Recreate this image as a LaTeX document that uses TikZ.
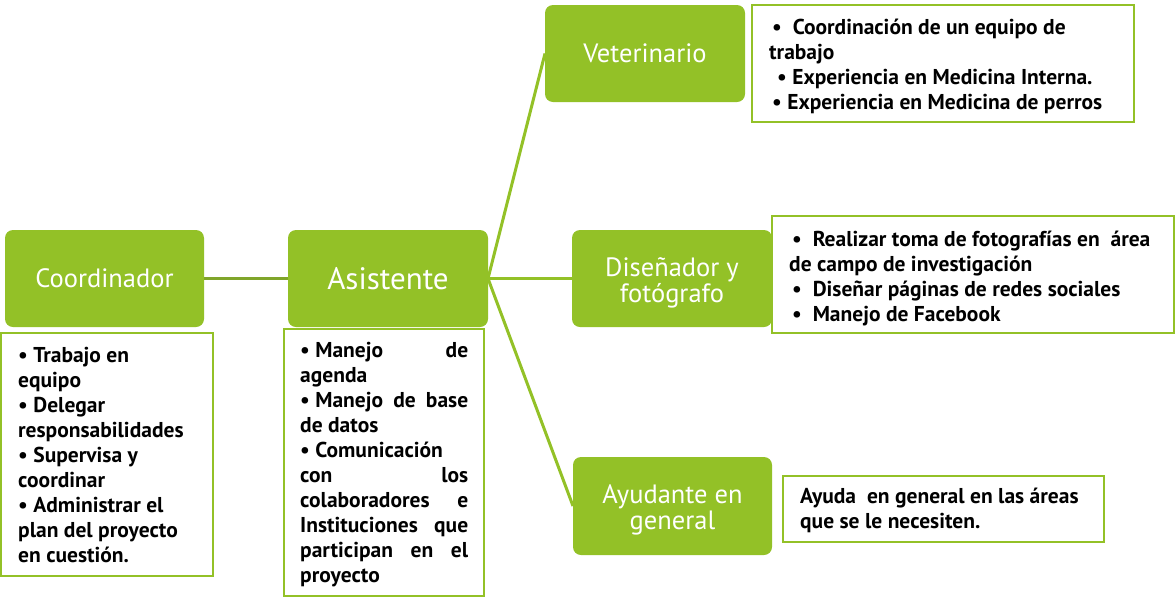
\documentclass[tikz,border=0pt]{standalone}
\usepackage{fontspec}
\setmainfont{PT Sans}
\definecolor{grn}{RGB}{147,193,39}
\definecolor{grnline}{RGB}{128,165,42}
\tikzset{
  role/.style={fill=grn, rounded corners=8pt, text=white, align=center, inner sep=0pt, outer sep=0pt,
    font=\fontsize{26.5}{26}\selectfont},
  listbox/.style={draw=grn, line width=2pt, fill=white, inner sep=0pt, outer sep=0pt},
  listtxt/.style={anchor=base west, align=left, inner sep=0pt, font=\bfseries\fontsize{21.5}{25}\selectfont},
  conn/.style={draw=grn, line width=3pt},
}
\begin{document}
\begin{tikzpicture}[x=1pt,y=-1pt]
\useasboundingbox (0,0) rectangle (1176,598);
% list boxes
\node[listbox, minimum width=212pt, minimum height=243pt] (coordlist) at (107,454.5) {};
\node[listbox, minimum width=200pt, minimum height=267pt] (asistlist) at (384,462.5) {};
\node[listbox, minimum width=382pt, minimum height=117pt] (vetlist) at (943,63.5) {};
\node[listbox, minimum width=402pt, minimum height=117pt] (dislist) at (973,274.5) {};
\node[listbox, minimum width=321pt, minimum height=66pt] (ayulist) at (943.5,509) {};
% role boxes
\node[role, minimum width=199pt, minimum height=97pt] (coord) at (104.5,278.5) {Coordinador};
\node[role, minimum width=200pt, minimum height=97pt, font=\fontsize{31}{30}\selectfont] (asist) at (388,278.5) {Asistente};
\node[role, minimum width=200pt, minimum height=97pt] (vet) at (645,53.5) {Veterinario};
\node[role, minimum width=200pt, minimum height=97pt] (dis) at (672,278.5) {\rule{0pt}{27pt}Diseñador y\\fotógrafo};
\node[role, minimum width=199pt, minimum height=98pt] (ayu) at (672.5,506) {\rule{0pt}{27pt}Ayudante en\\general};
% connectors
\draw[conn, draw=grnline] (coord.east) -- (asist.west);
\draw[conn] (asist.east) -- (vet.west);
\draw[conn] (asist.east) -- (dis.west);
\draw[conn] (asist.east) -- (ayu.west);
% texts (anchored at the baseline of their last line)
\node[listtxt] (coordtxt) at (18,562) {\textbullet\ Trabajo en\\equipo\\\textbullet\ Delegar\\responsabilidades\\\textbullet\ Supervisa y\\coordinar\\\textbullet\ Administrar el\\plan del proyecto\\en cuestión.};
\node[listtxt] (asisttxt) at (300,582) {%
\hbox to 168pt{\textbullet\ Manejo\hfill de}\\
agenda\\
\hbox to 168pt{\textbullet\ Manejo\hfill de\hfill base}\\
de datos\\
\textbullet\ Comunicación\\
\hbox to 168pt{con\hfill los}\\
\hbox to 168pt{colaboradores\hfill e}\\
\hbox to 168pt{Instituciones\hfill que}\\
\hbox to 168pt{participan\hfill en\hfill el}\\
proyecto};
\node[listtxt] (vettxt) at (769,109) {\hspace*{3pt}\textbullet\ \ Coordinación de un equipo de\\trabajo\\\hspace*{8pt}\textbullet\ Experiencia en Medicina Interna.\\\hspace*{3pt}\textbullet\ Experiencia en Medicina de perros};
\node[listtxt] (distxt) at (789,321) {\hspace*{3pt}\textbullet\ \ Realizar toma de fotografías en\ \ área\\de campo de investigación\\\hspace*{3pt}\textbullet\ \ Diseñar páginas de redes sociales\\\hspace*{3pt}\textbullet\ \ Manejo de Facebook};
\node[listtxt] (ayutxt) at (800,528) {Ayuda\ \ en general en las áreas\\que se le necesiten.};
\end{tikzpicture}
\end{document}
